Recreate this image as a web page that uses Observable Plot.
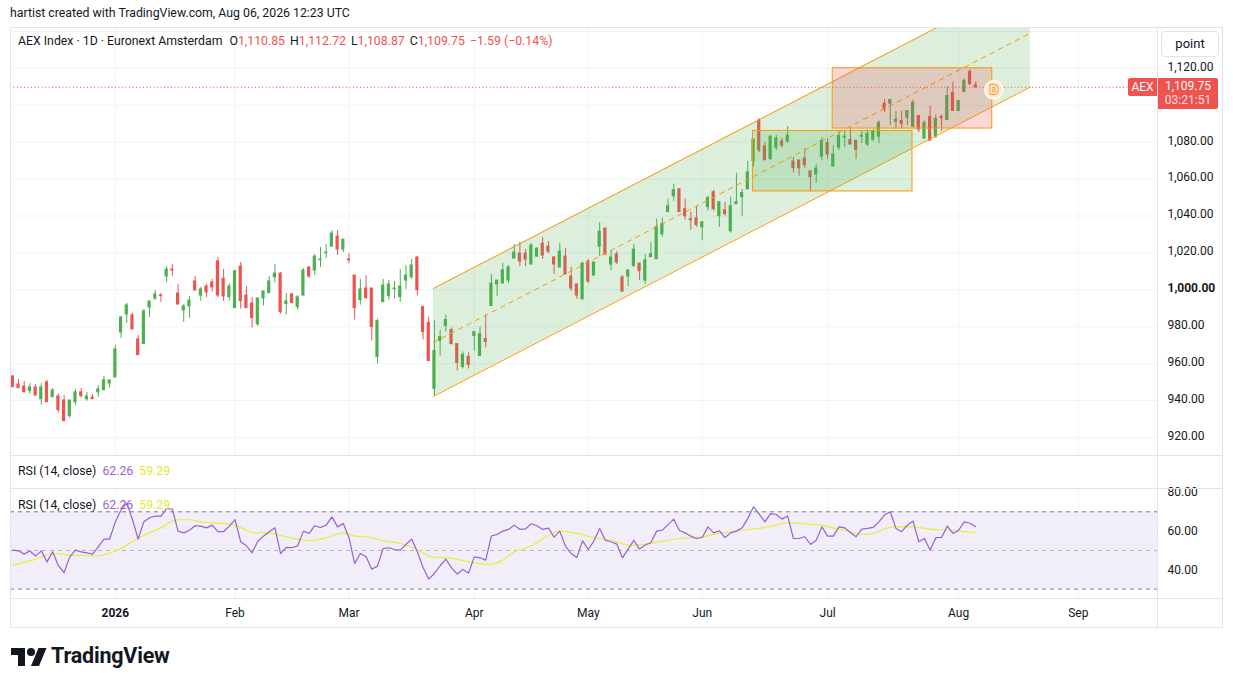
<!DOCTYPE html>
<html><head><meta charset="utf-8">
<script src="https://cdn.jsdelivr.net/npm/d3@7"></script>
<script src="https://cdn.jsdelivr.net/npm/@observablehq/plot@0.6"></script>
<style>
html,body{margin:0;padding:0;background:#fff;}
#root{position:relative;width:1233px;height:687px;overflow:hidden;font-family:Roboto,"Noto Sans",sans-serif;color:#131722;}
.abs{position:absolute;}
.ln{position:absolute;background:#e0e3eb;}
.red{color:#ef5350;}
</style></head><body><div id="root"></div>
<script>
// ---- data (bar index 1..170, trading days from early Dec 2025 to Aug 6 2026) ----
const open = [
953,948.7,947.6,945.1,947.1,940.7,949.8,941.8,942.2,940,
931.5,939.1,944.4,940.7,941.6,944.4,945.6,949.2,952.5,976.9,
986.6,986.1,973.1,970.6,990.4,995.3,996.9,1007.2,1011,998,
988.8,991,1004.5,996.9,1001.8,1004,1015.4,1006,996,990.1,
1012.6,996.9,992.6,981.3,995.3,998.2,1006.8,1008.8,992.3,997.5,
990.6,996.9,1012.1,1010.5,1016,1019.8,1023.4,1028.8,1021.8,1016.4,
1007.7,994.4,1000.7,1000.7,963.6,993.3,996.6,1000.4,996,1005,
1006.8,1017.5,990.6,982,946.3,972.3,980.4,978.2,970.6,958.2,
963.6,975,964.1,973.3,991.2,1002.9,1003.4,1005,1016.9,1019.6,
1019.6,1013.7,1018,1025,1023.4,1017.5,1012.1,1018,1007.2,1002.9,
994.8,1015.3,1007.7,1023.4,1033.2,1013.7,1019.1,1006.7,1007.2,1012.8,
1014.2,1005,1017.7,1016.6,1030.1,1042.1,1050.7,1054.5,1043.7,1038.3,
1038.8,1033.9,1044.8,1052.9,1039.9,1043.1,1031.8,1046.4,1050.2,1054.5,
1069.7,1091.7,1077.7,1070.8,1077.1,1080.4,1080.4,1069.5,1070.1,1071.1,
1064.1,1062.5,1072.2,1079.6,1066.8,1077.1,1082.5,1081.2,1080.8,1083,
1078.7,1081.4,1083,1100.9,1100.9,1091.1,1091.5,1093.3,1088.4,1094.2,
1081.9,1093.7,1083,1093.7,1092,1106.7,1096.9,1107.2,1118.1,1110.85];
const high = [
953.6,951.4,950.3,949.2,948.7,949.2,950.9,946.5,943.6,942.7,
940,946,946.5,944.4,943.3,948.1,953,950.9,969.8,985.5,
992.6,987.2,975.2,989.3,993.7,999.6,998,1012.6,1013.7,1002.9,
992,996.4,1007.2,1001.3,1002.9,1005.6,1017.5,1011,1003.2,1010.5,
1014.8,1001.8,995.9,995.3,999.1,1007.2,1013.7,1009.4,998,998,
996.9,1011.5,1012.6,1019.1,1022.9,1024.5,1032.1,1032.1,1027.2,1019.6,
1007.7,1005.6,1007.7,1000.7,984.1,1005.6,1005,1004.5,1011,1013.2,
1016.4,1018,991.2,985.2,983.1,978.2,986.3,979.3,970.6,966.3,
965.8,977.1,979.8,986.3,1008.3,1005,1014.2,1013.2,1024.5,1025.6,
1021.8,1025,1022.9,1028.3,1026.1,1018,1025,1022.3,1012.1,1002.9,
1014.8,1016.4,1014.8,1036.4,1033.2,1021.3,1020.7,1007.7,1010.5,1024.5,
1014.2,1019.1,1025.6,1038.3,1038.8,1049.1,1057.2,1054.5,1049.1,1042.1,
1045.3,1036.6,1050.7,1054,1047.5,1047.5,1050.2,1063.2,1054.5,1069.5,
1081.4,1092.8,1079.8,1083.1,1083.6,1082,1088.5,1071.7,1070.1,1076.6,
1064.6,1067.9,1082.3,1081.8,1078.1,1085.5,1086.1,1087.7,1080.8,1086.1,
1086.6,1086.8,1091.5,1103.1,1102.9,1096.6,1096.9,1096.9,1102.9,1094.2,
1091.5,1099.6,1094.8,1094.8,1109.9,1112.6,1102.3,1114.3,1119.2,1112.72];
const low = [
947,946.7,944,943.3,942.4,937.5,939.1,941.8,933.2,928.8,
930.4,937.5,941.3,939.6,940.7,941.8,945.6,946.7,952.5,973.6,
981.8,978.5,964.6,970.6,985,994.2,993.1,1004,1007.2,992,
982.3,984.5,999.6,993.7,995.8,999,995.8,993.7,993.9,990.1,
989.5,990.1,979.3,980.2,991.2,998.2,1003.6,986.8,986.3,992.8,
989,996.9,1006.1,1007.7,1012.1,1016.9,1023.4,1018.6,1020.2,1014.2,
983.6,991.7,995,972.3,959.8,993.3,994.4,995,993.3,1000.2,
1005.6,996.6,972.8,961.4,942.5,964.1,977.1,970.1,956,957.1,
957.1,966.8,964.1,968.5,991.2,996.4,1003.4,1003.4,1016.9,1012.6,
1012.6,1013.7,1017.5,1016.4,1019.6,1008.3,1012.1,1008.3,999.1,994.8,
994.8,1003.4,1007.7,1018,1018.6,1010.5,1013.7,998.6,1001.8,1012.3,
1005,1003,1017.7,1016.6,1028.5,1042.1,1048,1042.1,1037.7,1032.3,
1033.9,1026.9,1042.6,1042.6,1033.9,1039.9,1030.7,1046.4,1039.9,1054.5,
1066.5,1074.4,1070.2,1070.2,1075.5,1076.6,1079.3,1063.2,1061.6,1065.9,
1053.3,1057.8,1070,1070.6,1066.8,1075.4,1077.1,1078.7,1070.6,1079.2,
1077.6,1080.3,1079.2,1096,1089,1086.8,1087.4,1089,1087.9,1085.2,
1081.9,1080.8,1081.9,1085.7,1092,1096.9,1096.9,1107.2,1111,1108.87];
const close = [
947.2,946.7,944.5,947.1,942.7,947.1,939.1,945.4,934.8,928.8,
940,944.4,942.4,942.2,940.7,946,950.9,950.9,967.7,985,
991.5,978.5,964.6,988.3,993.7,997.5,996.6,1011,1010.5,992,
991,994.2,999.6,1000.2,998.6,1001.3,996.9,996.4,1001.8,1010.1,
993.9,990.1,984.7,995.3,999.1,1004.5,1008.8,987.9,993.7,992.8,
995.9,1010.5,1007.2,1018,1016.4,1020.2,1030.5,1021.8,1027.2,1016,
990.1,1000.2,995.5,979.8,983.1,1002.3,1002.9,1000.7,1001.8,1007.7,
1013.2,999.8,977.1,961.4,966.8,974.4,983.6,970.6,960.4,964.7,
959.3,977.1,976,971.7,1003.4,1005,1010.5,1012.1,1020.2,1015.3,
1016.4,1024,1022.3,1018.6,1020.7,1013.7,1020.7,1008.3,1000.7,996.9,
1014.2,1004.5,1014.8,1031.5,1019.1,1017.5,1014.8,999.1,1010.5,1021.8,
1010.1,1016,1019.3,1033.9,1035.6,1045.3,1054,1042.1,1039.9,1037.7,
1035,1036.6,1049.6,1043.7,1047.5,1041,1045.3,1047.5,1052.4,1063.6,
1081.4,1075.5,1070.2,1083.1,1082,1078.2,1083.6,1065.9,1065.9,1067.5,
1061,1065.7,1080.7,1073.3,1073.3,1083.4,1083,1078.7,1075.8,1083.5,
1084.6,1085.7,1090.4,1097.7,1102.9,1092.2,1090.1,1096.9,1101.3,1086.8,
1090.4,1080.8,1092.6,1093.1,1105,1096.9,1102.3,1113.2,1111.34,1109.75];
const rsi = [
50.2,49.8,48.1,49.7,47.1,49.8,44.1,49.3,42.1,38.6,
46.7,50.2,49.3,48.8,48.1,51.9,55.9,55.9,64.8,70.9,
74.5,66,55.9,64.8,66.9,67.8,67.8,71.7,71.4,60,
59.1,60.5,62.8,62.6,61.7,63.1,59.7,59.7,62.6,66,
54.5,52.4,48.8,54.8,57.4,59.7,61.7,48.4,51.6,51.4,
52.4,60,58.8,62.8,61.9,63.1,67.4,62.2,64,56.6,
43.3,48.4,46.7,40.3,41.9,51,51.4,50.5,50.2,53.1,
55.9,49.3,41.2,35.2,38.1,42.1,45.5,41,37.8,40.2,
38.4,46.7,46.2,45,57.5,58.3,60,60.9,63.1,60.9,
61.2,63.8,62.8,60.9,61.6,56.9,60,52.2,48.4,46.4,
55,50.5,55,61.4,55.3,54.5,53.3,46.2,50.7,55.3,
50.7,52.8,54.1,60,60.5,63.4,66.2,60.3,59.1,57.4,
56.2,56.7,62.2,59.1,60.2,56.7,59.1,60,61.7,66.6,
72.6,68.8,64.8,69.1,68.6,66.2,67.8,56.2,56.2,57.1,
53.1,55.3,62.2,57.4,57.4,62.2,61.7,59.3,57.1,61,
61.4,61.9,64.8,68.3,70,61.4,59.7,63.1,65.2,54.5,
56.2,50.2,56.6,56.7,62.6,58.8,60.5,64.8,64.1,62.26];
// RSI-based moving average, read at selected bars
const maIdx = [1,5,8,11,14,16,19,22,24,27,29,32,34,37,40,43,46,49,51,54,56,59,61,63,66,69,72,74,78,82,85,87,89,92,95,97,100,103,106,109,112,115,118,121,125,128,133,137,140,143,146,151,155,159,162,166,170];
const maVal = [42.4,45.5,48.3,47.6,47.4,47.2,49.7,54.5,57.9,61.7,65.2,65.9,64.8,64.1,63.1,59.3,59,57.1,55.7,55.2,56.6,59.1,57.4,57.1,55,53.6,50.5,47.1,45.9,43.6,42.8,45,49.3,52.4,57.9,60,58.8,56.7,55.3,52.8,53.3,54.8,56.2,56.6,58.8,60,61.9,64.3,63.8,63.1,61,58.3,61.9,62.2,61,60.3,59.29];
// time axis
const monthIdx = [19,40,60,82,102,122,144,167,188];
const monthLabels = ["2026","Feb","Mar","Apr","May","Jun","Jul","Aug","Sep"];
const priceTicks = [920,940,960,980,1000,1020,1040,1060,1080,1100,1120,1140];
const priceLabels = [920,940,960,980,1000,1020,1040,1060,1080,1120];
const rsiTicks = [40,60,80];
const rsiLevels = [30,50,70];
// drawings
const channelX = [74.8, 179.6];
const channelLower = [942.2, 1109.9];
const channelUpper = [1000.7, 1168.4];
const boxes = [
  {x1:130.9, x2:158.9, y1:1053.3, y2:1086.1, kind:"green"},
  {x1:144.9, x2:172.9, y1:1087.4, y2:1120.1, kind:"red"}
];
const marker = {x:173.2, y:1108.4, label:"D"};
const lastClose = close[close.length-1];

// ---- build ----
const GREEN="#4caf50", RED="#ef5350", ORANGE="#ff9800", GRID="#f0f3fa";
const xDomain=[0.596, 201.9];
const candles = close.map((c,i)=>({n:i+1,o:open[i],h:high[i],l:low[i],c}));
const chan = channelX.map((x,i)=>({x, lo:channelLower[i], hi:channelUpper[i], mid:(channelLower[i]+channelUpper[i])/2}));
const root=document.getElementById("root");
const fmt = d3.format(",.2f");
const baseStyle={fontFamily:"Roboto, 'Noto Sans', sans-serif", fontSize:"12px", color:"#131722", background:"transparent", overflow:"visible"};

const main = Plot.plot({
  width:1233, height:428, marginLeft:10, marginRight:76, marginTop:0, marginBottom:0,
  style: baseStyle,
  x:{domain:xDomain, axis:null, label:null},
  y:{domain:[910.19,1142.17], axis:null, label:null},
  color:{type:"identity"},
  marks:[
    Plot.gridY(priceTicks,{stroke:GRID, strokeOpacity:1}),
    Plot.gridX(monthIdx,{stroke:GRID, strokeOpacity:1}),
    Plot.ruleX(candles,{x:"n", y1:"l", y2:"h", stroke:d=>d.c>=d.o?GREEN:RED, strokeWidth:1}),
    Plot.rect(candles,{x1:d=>d.n-0.28, x2:d=>d.n+0.28, y1:d=>Math.min(d.o,d.c), y2:d=>Math.max(d.o,d.c), fill:d=>d.c>=d.o?GREEN:RED, insetTop:-0.5, insetBottom:-0.5}),
    Plot.areaY(chan,{x:"x", y1:"lo", y2:"hi", fill:GREEN, fillOpacity:0.2, clip:true}),
    Plot.line(chan,{x:"x", y:"hi", stroke:ORANGE, strokeWidth:1, clip:true}),
    Plot.line(chan,{x:"x", y:"lo", stroke:ORANGE, strokeWidth:1, clip:true}),
    Plot.line(chan,{x:"x", y:"mid", stroke:ORANGE, strokeWidth:1, strokeDasharray:"4.5,5", clip:true}),
    Plot.rect(boxes,{x1:"x1", x2:"x2", y1:"y1", y2:"y2", fill:d=>d.kind==="green"?GREEN:"#f23645", fillOpacity:0.2, stroke:ORANGE, strokeWidth:1}),
    Plot.ruleY([lastClose],{stroke:RED, strokeDasharray:"1,2.5", strokeWidth:1}),
    Plot.dot([marker],{x:"x", y:"y", r:9, fill:"#fde8cf", stroke:"#fff6ec", strokeWidth:2}),
    Plot.text([marker],{x:"x", y:"y", text:"label", fill:"#fff3e0", stroke:"#f57c00", strokeWidth:1.6, fontSize:13, fontWeight:"bold"}),
    Plot.axisY(priceLabels.filter(d=>d!==1000),{anchor:"right", label:null, tickSize:0, tickPadding:10, dy:-1.5, tickFormat:fmt, fontSize:12, fill:"#131722"}),
    Plot.axisY([1000],{anchor:"right", label:null, tickSize:0, tickPadding:10, dy:-1.5, tickFormat:fmt, fontSize:12, fill:"#131722", fontWeight:"bold"})
  ]
});
main.style.position="absolute"; main.style.left="0px"; main.style.top="27px";
root.appendChild(main);

const maData = maIdx.map((n,i)=>({n, v:maVal[i]}));
const rsiData = rsi.map((v,i)=>({n:i+1, v}));
const labelOf = new Map(monthIdx.map((d,i)=>[d, monthLabels[i]]));
const rsiPlot = Plot.plot({
  width:1233, height:138, marginLeft:10, marginRight:76, marginTop:0, marginBottom:29,
  style: baseStyle,
  x:{domain:xDomain, axis:null, label:null},
  y:{domain:[25.15,81.54], axis:null, label:null},
  marks:[
    Plot.rect([rsiLevels],{x1:()=>xDomain[0], x2:()=>xDomain[1], y1:d=>d[0], y2:d=>d[2], fill:"#7e57c2", fillOpacity:0.1}),
    Plot.gridY(rsiTicks.filter(d=>d<80),{stroke:GRID, strokeOpacity:1}),
    Plot.gridX(monthIdx,{stroke:GRID, strokeOpacity:1}),
    Plot.ruleY([rsiLevels[0],rsiLevels[2]],{stroke:"#787b86", strokeDasharray:"4,4", strokeWidth:1}),
    Plot.ruleY([rsiLevels[1]],{stroke:"#787b86", strokeOpacity:0.5, strokeDasharray:"4,4", strokeWidth:1}),
    Plot.line(maData,{x:"n", y:"v", stroke:"#e6ef3a", strokeWidth:1.2, curve:"catmull-rom"}),
    Plot.line(rsiData,{x:"n", y:"v", stroke:"#9c5fd0", strokeWidth:1.2}),
    Plot.axisY(rsiTicks,{anchor:"right", label:null, tickSize:0, tickPadding:10, tickFormat:fmt, fontSize:12, fill:"#131722"}),
    Plot.axisX(monthIdx.filter(d=>d!==19),{anchor:"bottom", label:null, tickSize:0, tickPadding:10, tickFormat:d=>labelOf.get(d), fontSize:12, fill:"#131722"}),
    Plot.axisX([19],{anchor:"bottom", label:null, tickSize:0, tickPadding:10, tickFormat:d=>labelOf.get(d), fontSize:12, fill:"#131722", fontWeight:"bold"})
  ]
});
rsiPlot.style.position="absolute"; rsiPlot.style.left="0px"; rsiPlot.style.top="489px";
root.appendChild(rsiPlot);

function add(html){ root.insertAdjacentHTML("beforeend", html); }
// frame lines
add(`<div class="ln" style="left:10px;top:27px;width:1213px;height:1px"></div>
<div class="ln" style="left:10px;top:27px;width:1px;height:601px"></div>
<div class="ln" style="left:1222px;top:27px;width:1px;height:601px"></div>
<div class="ln" style="left:10px;top:627px;width:1213px;height:1px"></div>
<div class="ln" style="left:1157px;top:27px;width:1px;height:601px"></div>
<div class="ln" style="left:10px;top:455px;width:1213px;height:1px"></div>
<div class="ln" style="left:10px;top:488px;width:1213px;height:1px"></div>
<div class="ln" style="left:10px;top:598px;width:1213px;height:1px"></div>`);
// header & legends
add(`<div class="abs" style="left:10px;top:6px;font-size:12.3px;color:#131722;white-space:pre">hartist created with TradingView.com, Aug 06, 2026 12:23 UTC</div>`);
add(`<div class="abs" style="left:18px;top:34px;font-size:12.3px;color:#131722;white-space:pre">AEX Index · 1D · Euronext Amsterdam<span style="margin-left:7px">O</span><span class="red">${fmt(open[169])}</span><span style="margin-left:5px">H</span><span class="red">${fmt(high[169])}</span><span style="margin-left:5px">L</span><span class="red">${fmt(low[169])}</span><span style="margin-left:5px">C</span><span class="red">${fmt(lastClose)}</span><span class="red" style="margin-left:5px">−1.59 (−0.14%)</span></div>`);
const rsiLegend = `RSI (14, close)<span style="margin-left:6px;color:#9c5fd0">${rsi[rsi.length-1].toFixed(2)}</span><span style="margin-left:6px;color:#e2e830">${maVal[maVal.length-1].toFixed(2)}</span>`;
add(`<div class="abs" style="left:18px;top:464px;font-size:12.3px;white-space:pre">${rsiLegend}</div>`);
add(`<div class="abs" style="left:18px;top:498px;font-size:12.3px;white-space:pre">${rsiLegend}</div>`);
// right axis widgets
add(`<div class="abs" style="left:1161px;top:31px;width:56px;height:24px;border:1px solid #e0e3eb;border-radius:4px;background:#fff;font-size:13px;line-height:24px;text-align:center">point</div>`);
const yPix = 27 + main.scale("y").apply(lastClose);
add(`<div class="abs" style="left:1128px;top:${yPix-9}px;width:29px;height:18px;background:${RED};border-radius:2px 0 0 2px;color:#fff;font-size:12px;line-height:18px;text-align:center">AEX</div>`);
add(`<div class="abs" style="left:1158px;top:${yPix-9}px;width:60px;height:31px;background:${RED};border-radius:0 2px 2px 0;color:#fff;font-size:12px;line-height:14px;text-align:center;padding-top:1px;box-sizing:border-box"><div>${fmt(lastClose)}</div><div style="color:rgba(255,255,255,0.85)">03:21:51</div></div>`);
// footer logo
add(`<svg class="abs" style="left:11px;top:644px" width="36" height="28" viewBox="0 0 36 28"><path fill="#131722" d="M14 22H7V11H0V4h14v18zM28 22h-8l7.5-18h8L28 22z"/><circle fill="#131722" cx="20" cy="8" r="4"/></svg>
<div class="abs" style="left:51px;top:643px;font-size:21.5px;font-weight:bold;color:#131722;letter-spacing:-0.2px">TradingView</div>`);
</script></body></html>
